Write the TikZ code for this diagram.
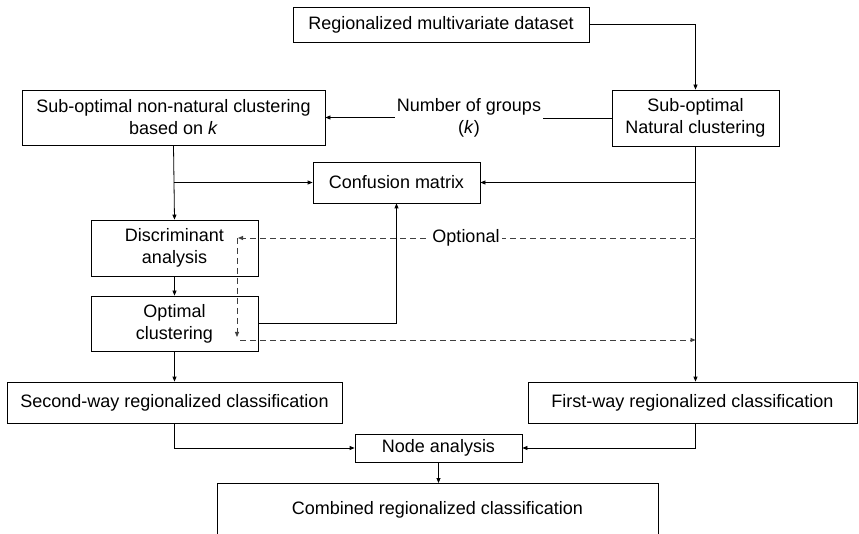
\documentclass[tikz,border=0pt]{standalone}
\usepackage{fontspec}
\setmainfont{Liberation Sans}
\usetikzlibrary{arrows.meta}
\begin{document}
\begin{tikzpicture}[x=1pt,y=-1pt,
 txt/.style={font=\fontsize{18}{22}\selectfont, align=center},
 box/.style={txt, draw, line width=0.8pt, inner sep=0pt},
 lbl/.style={txt, inner sep=0pt},
 ln/.style={line width=0.8pt},
 arr/.style={ln, -{Triangle[length=5pt,width=4pt]}},
 dsh/.style={arr, draw=black!75, dash pattern=on 6pt off 4pt}]
\useasboundingbox (0,0) rectangle (859,534);
\node[box, minimum width=296pt, minimum height=35pt] (data) at (441,24.5) {Regionalized multivariate dataset};
\node[box, minimum width=167pt, minimum height=56pt] (nat) at (695.5,118) {Sub-optimal\\Natural clustering};
\node[box, minimum width=303pt, minimum height=55pt] (nonnat) at (173.5,117.5) {Sub-optimal non-natural clustering\\based on \textit{k}};
\node[lbl, inner xsep=2pt] (groups) at (469,118) {Number of groups\\(\textit{k})};
\node[box, minimum width=167pt, minimum height=41pt] (conf) at (396.5,182.5) {Confusion matrix};
\node[box, minimum width=167pt, minimum height=56pt] (disc) at (174.5,248) {Discriminant\\analysis};
\node[box, minimum width=167pt, minimum height=55pt] (opt) at (174.5,323.5) {Optimal\\clustering};
\node[box, minimum width=335pt, minimum height=41pt] (second) at (174.5,402.5) {Second-way regionalized classification};
\node[box, minimum width=329pt, minimum height=41pt] (first) at (692.5,402.5) {First-way regionalized classification};
\node[box, minimum width=167pt, minimum height=28pt] (nodeA) at (438.5,448) {Node analysis};
\coordinate (cTL) at (217,483);
\coordinate (cTR) at (658,483);
\coordinate (cBL) at (217,545);
\coordinate (cBR) at (658,545);
\draw[ln] (cBL) -- (cTL) -- (cTR) -- (cBR);
\node[lbl] (comb) at (437.5,510) {Combined regionalized classification};
% connectors
\draw[arr] (data.east) -| (nat.north);
\draw[ln] (nat.west) -- (groups.east |- nat.west);
\draw[arr] (groups.west |- nonnat.east) -- (nonnat.east);
\draw[arr] (nonnat.south) -- (disc.north);
\draw[arr] (nonnat.south |- conf.west) -- (conf.west);
\draw[arr] (nat.south |- conf.east) -- (conf.east);
\draw[arr] (nat.south) -- (nat.south |- first.north);
\draw[arr] (disc.south) -- (opt.north);
\draw[arr] (opt.east) -| (conf.south);
\draw[arr] (opt.south) -- (second.north);
\draw[arr] (second.south) |- (nodeA.west);
\draw[arr] (nat.south |- first.south) |- (nodeA.east);
\draw[arr] (nodeA.south) -- (nodeA.south |- cTL);
% optional dashed paths
\coordinate (dA) at (238,238);
\coordinate (dB) at (237,337);
\coordinate (dC) at (240,340);
\draw[dsh] (nat.south |- dA) -- (dA);
\node[lbl, fill=white, inner xsep=2pt, inner ysep=1pt] (opttxt) at (466,238) {Optional};
\draw[dsh] (dA -| dB) -- (dB);
\draw[dsh] (dC) -- (nat.south |- dC);
\end{tikzpicture}
\end{document}
